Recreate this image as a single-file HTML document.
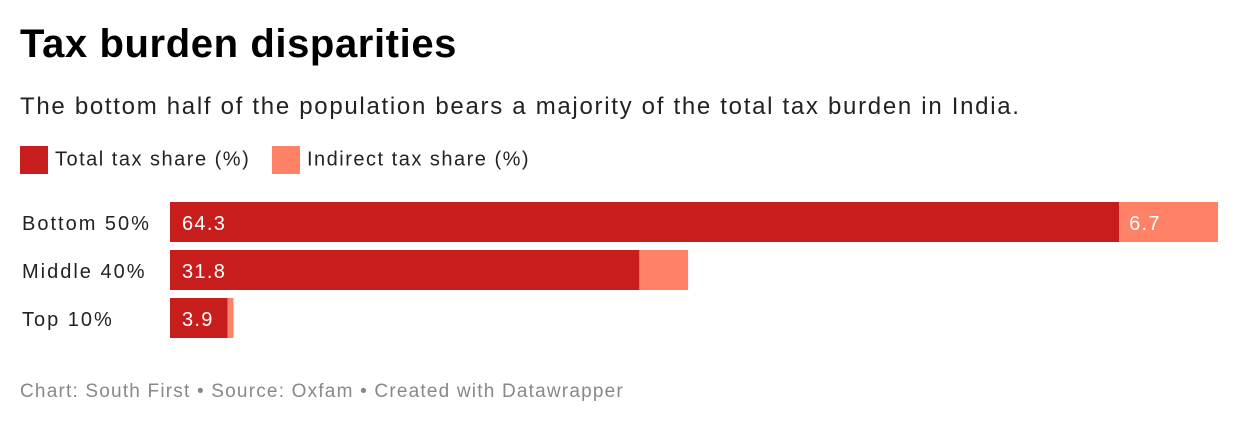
<!DOCTYPE html>
<html><head><meta charset="utf-8"><style>
body{margin:0;width:1240px;height:426px;background:#fff;font-family:"Liberation Sans",sans-serif;position:relative;overflow:hidden}
.t{position:absolute;white-space:nowrap}
</style></head><body>
<div class="t" style="left:20px;top:22px;font-size:40px;font-weight:bold;color:#000;letter-spacing:0.6px">Tax burden disparities</div>
<div class="t" style="left:20px;top:93px;font-size:24px;color:#222;letter-spacing:1.7px">The bottom half of the population bears a majority of the total tax burden in India.</div>
<div style="position:absolute;left:20px;top:146px;height:30px;font-size:20px;color:#222;letter-spacing:1.5px">
 <div class="t" style="left:0;top:0"><span style="display:inline-block;width:28px;height:28px;background:#c71e1d;vertical-align:middle;margin-right:7px"></span><span style="vertical-align:middle">Total tax share (%)</span></div>
 <div class="t" style="left:252px;top:0"><span style="display:inline-block;width:28px;height:28px;background:#ff8166;vertical-align:middle;margin-right:7px"></span><span style="vertical-align:middle">Indirect tax share (%)</span></div>
</div>
<svg id="chart" width="1240" height="426" style="position:absolute;left:0;top:0"></svg>
<div class="t" style="left:20px;top:381px;font-size:19px;color:#888;letter-spacing:1.2px">Chart: South First • Source: Oxfam • Created with Datawrapper</div>
<script>
const categories=["Bottom 50%","Middle 40%","Top 10%"];
const totalShare=[64.3,31.8,3.9];
const indirectShare=[6.7,3.3,0.4];
const showIndirectLabel=[true,false,false];
const svg=document.getElementById('chart');
const NS='http://www.w3.org/2000/svg';
const x0=170,xMax=71,width=1048;
function xs(v){return v/xMax*width;}
function ys(i){return 202+i*48;}
categories.forEach((c,i)=>{
 const y=ys(i);
 const lbl=document.createElementNS(NS,'text');
 
 
 lbl.setAttribute('x',22);lbl.setAttribute('y',y+28);lbl.setAttribute('font-size','20');lbl.setAttribute('fill','#222');lbl.setAttribute('letter-spacing','2');
 lbl.textContent=c;svg.appendChild(lbl);
 const w1=xs(totalShare[i]);
 const r1=document.createElementNS(NS,'rect');
 
 
 r1.setAttribute('x',x0);r1.setAttribute('y',y);r1.setAttribute('width',w1);r1.setAttribute('height',40);r1.setAttribute('fill','#c71e1d');
 svg.appendChild(r1);
 const w2=xs(indirectShare[i]);
 const r2=document.createElementNS(NS,'rect');
 
 
 r2.setAttribute('x',x0+w1);r2.setAttribute('y',y);r2.setAttribute('width',w2);r2.setAttribute('height',40);r2.setAttribute('fill','#ff8166');
 svg.appendChild(r2);
 const v1=document.createElementNS(NS,'text');
 
 
 v1.setAttribute('x',x0+12);v1.setAttribute('y',y+28);v1.setAttribute('font-size','20');v1.setAttribute('fill','#fff');v1.setAttribute('letter-spacing','1.3');
 v1.textContent=totalShare[i].toFixed(1);svg.appendChild(v1);
 if(showIndirectLabel[i]){
  const v2=document.createElementNS(NS,'text');
  
  
  v2.setAttribute('x',x0+w1+10);v2.setAttribute('y',y+28);v2.setAttribute('font-size','20');v2.setAttribute('fill','#fff');v2.setAttribute('letter-spacing','1.3');
  v2.textContent=indirectShare[i].toFixed(1);svg.appendChild(v2);
 }
});
</script>
</body></html>
